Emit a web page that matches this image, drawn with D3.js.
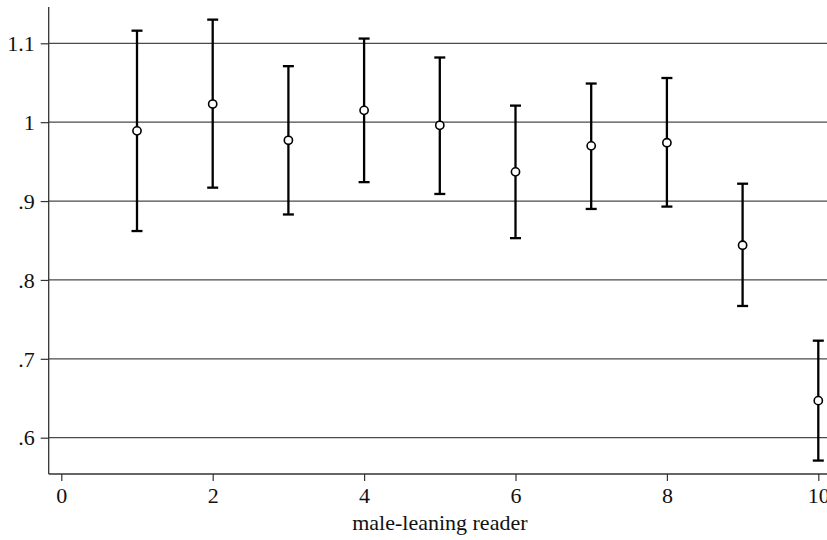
<!DOCTYPE html>
<html><head><meta charset="utf-8">
<script src="https://cdn.jsdelivr.net/npm/d3@7"></script>
<style>body{margin:0;background:#fff}svg{display:block}text{font-family:"Liberation Serif","Times New Roman",serif}</style>
</head><body>
<svg id="c" width="827" height="540"></svg>
<script>
const categories = [1,2,3,4,5,6,7,8,9,10];
const estimates = [0.989,1.023,0.977,1.015,0.996,0.937,0.970,0.974,0.844,0.647];
const upper =     [1.116,1.130,1.071,1.106,1.082,1.021,1.049,1.056,0.922,0.723];
const lower =     [0.862,0.917,0.883,0.924,0.909,0.853,0.890,0.893,0.767,0.571];
const xTicks = [0,2,4,6,8,10];
const yTicks = [0.6,0.7,0.8,0.9,1.0,1.1];
const yTickLabels = [".6",".7",".8",".9","1","1.1"];
const xTitle = "male-leaning reader";

const svg = d3.select("#c");
const L = 48.7, R = 827, T = 7, B = 474;
const x = d3.scaleLinear().domain([0,10]).range([61.3,818.3]);
const y = d3.scaleLinear().domain([0.6,1.1]).range([437.7,43.3]);

// gridlines
svg.append("g").selectAll("line").data(yTicks).join("line")
  .attr("x1",L).attr("x2",R).attr("y1",d=>y(d)).attr("y2",d=>y(d))
  .attr("stroke","#4a4a4a").attr("stroke-width",1.2);

// y axis
const yAxis = svg.append("g").attr("transform",`translate(${L},0)`)
  .call(d3.axisLeft(y).tickValues(yTicks).tickSize(8).tickPadding(6)
    .tickFormat((d,i)=>yTickLabels[i]));
yAxis.select(".domain").remove();
yAxis.selectAll(".tick line").attr("stroke","#333").attr("stroke-width",1.2);
yAxis.selectAll(".tick text").attr("font-size",22).attr("fill","#111")
  .attr("font-family","Liberation Serif").attr("dy","0.33em");
svg.append("line").attr("x1",L).attr("x2",L).attr("y1",T).attr("y2",B)
  .attr("stroke","#333").attr("stroke-width",1.3);

// x axis
const xAxis = svg.append("g").attr("transform",`translate(0,${B})`)
  .call(d3.axisBottom(x).tickValues(xTicks).tickSize(7).tickPadding(6).tickFormat(d3.format("d")));
xAxis.select(".domain").remove();
xAxis.selectAll(".tick line").attr("stroke","#333").attr("stroke-width",1.2);
xAxis.selectAll(".tick text").attr("font-size",22).attr("fill","#111")
  .attr("font-family","Liberation Serif").attr("dy","0.71em");
svg.append("line").attr("x1",L).attr("x2",R).attr("y1",B).attr("y2",B)
  .attr("stroke","#333").attr("stroke-width",1.3);

svg.append("text").attr("x",(L+R)/2+2).attr("y",530).attr("text-anchor","middle")
  .attr("font-size",22).attr("fill","#111").text(xTitle);

// error bars
const g = svg.append("g");
categories.forEach((c,i)=>{
  const cx = x(c);
  g.append("line").attr("x1",cx).attr("x2",cx).attr("y1",y(upper[i])).attr("y2",y(lower[i]))
    .attr("stroke","#000").attr("stroke-width",2.3);
  [upper[i],lower[i]].forEach(v=>{
    g.append("line").attr("x1",cx-5.5).attr("x2",cx+5.5).attr("y1",y(v)).attr("y2",y(v))
      .attr("stroke","#000").attr("stroke-width",2.3);
  });
  g.append("circle").attr("cx",cx).attr("cy",y(estimates[i])).attr("r",4.1)
    .attr("fill","#fff").attr("stroke","#000").attr("stroke-width",1.6);
});
</script>
</body></html>
